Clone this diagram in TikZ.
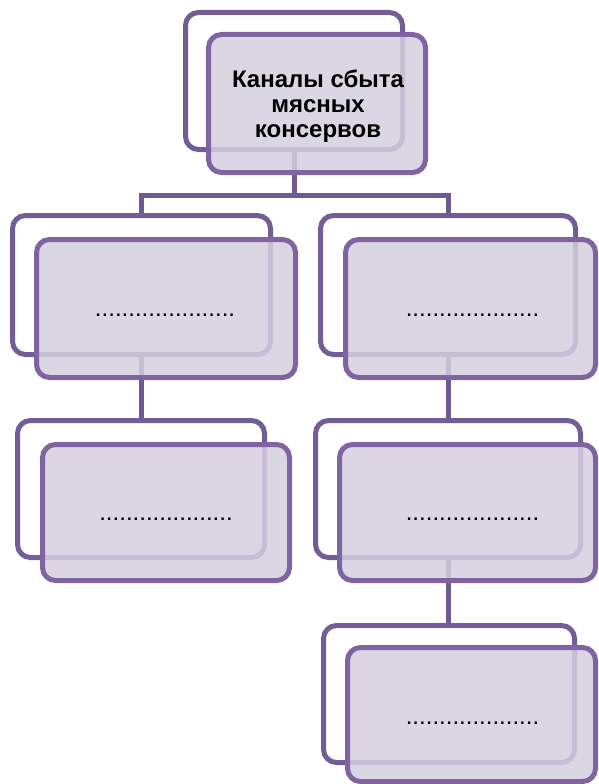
\documentclass[tikz,border=0pt]{standalone}
\usepackage{fontspec}
\setmainfont{Liberation Sans}
\definecolor{backpurple}{RGB}{115,93,150}
\definecolor{frontpurple}{RGB}{128,100,162}
\definecolor{frontfill}{RGB}{212,207,223}
\definecolor{connpurple}{RGB}{110,90,145}
\begin{document}
\begin{tikzpicture}[x=1pt,y=-1pt,
  backbox/.style={draw=backpurple,line width=5pt,rounded corners=13pt,fill=white,inner sep=0pt},
  frontbox/.style={draw=frontpurple,line width=5pt,rounded corners=13pt,fill=frontfill,fill opacity=0.85,text opacity=1,inner sep=0pt},
  conn/.style={draw=connpurple,line width=5pt},
  dotstext/.style={font=\fontsize{24}{26}\selectfont,anchor=base,inner sep=0pt},
  titletext/.style={font=\fontsize{24}{25}\selectfont\bfseries,align=center,inner sep=0pt}]
\useasboundingbox (0,0) rectangle (598,784);
\coordinate (j) at (294,195);
% back boxes
\node[backbox,minimum width=217pt,minimum height=137pt] (topback) at (294,81) {};
\node[backbox,minimum width=258pt,minimum height=139pt] (l1back) at (141.5,285) {};
\node[backbox,minimum width=255pt,minimum height=139pt] (r1back) at (448,285) {};
\node[backbox,minimum width=247pt,minimum height=137pt] (l2back) at (141,489) {};
\node[backbox,minimum width=265pt,minimum height=137pt] (r2back) at (448,489) {};
\node[backbox,minimum width=251pt,minimum height=137pt] (r3back) at (449,694) {};
% connector lines
\draw[conn] (topback.south) -- (j);
\draw[conn] (l1back.north) -- (l1back.north |- j) -- (r1back.north |- j) -- (r1back.north);
\draw[conn] (l1back.south) -- (l1back.south |- l2back.north);
\draw[conn] (r1back.south) -- (r1back.south |- r2back.north);
\draw[conn] (r2back.south) -- (r2back.south |- r3back.north);
% front boxes
\node[frontbox,minimum width=217pt,minimum height=138pt] (topfront) at (317,103.5) {};
\node[frontbox,minimum width=259pt,minimum height=138pt] (l1front) at (166,308.5) {};
\node[frontbox,minimum width=250pt,minimum height=138pt] (r1front) at (470.5,308.5) {};
\node[frontbox,minimum width=247pt,minimum height=136pt] (l2front) at (166,512.5) {};
\node[frontbox,minimum width=256pt,minimum height=136pt] (r2front) at (467.5,512.5) {};
\node[frontbox,minimum width=248pt,minimum height=134pt] (r3front) at (471.5,714.5) {};
% texts
\node[titletext] (title) at (318,106) {Каналы сбыта\\мясных\\консервов};
\node[dotstext] (l1dots) at (165,316) {.....................};
\node[dotstext] (r1dots) at (472.5,316) {....................};
\node[dotstext] (l2dots) at (166,520.5) {....................};
\node[dotstext] (r2dots) at (472.5,520.5) {....................};
\node[dotstext] (r3dots) at (472.5,724.5) {....................};
\end{tikzpicture}
\end{document}
